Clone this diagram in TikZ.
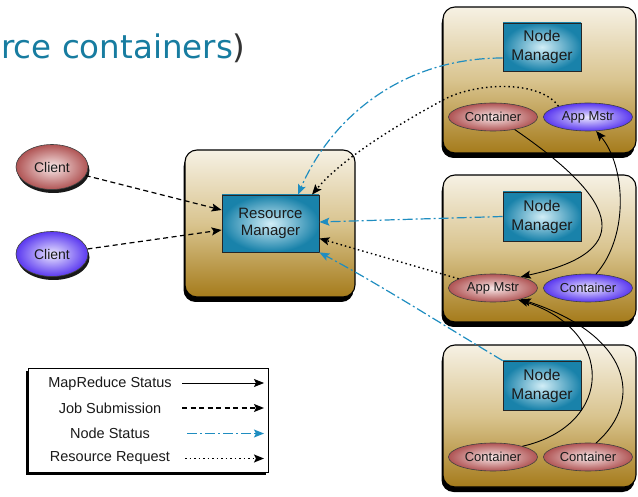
\documentclass[tikz,border=0pt]{standalone}
\usepackage{fontspec}
\setmainfont{Liberation Sans}
\newfontfamily\headfont{DejaVu Sans}
\usetikzlibrary{arrows.meta,shapes.geometric,shadows}

\definecolor{headteal}{HTML}{177CA0}
\definecolor{parengray}{HTML}{333333}
\definecolor{panelTop}{HTML}{F6F1E4}
\definecolor{panelMid}{HTML}{D9C48F}
\definecolor{panelBot}{HTML}{A57B1B}
\definecolor{mgrOut}{HTML}{1982AA}
\definecolor{mgrIn}{HTML}{D2EEF7}
\definecolor{redOut}{HTML}{B05454}
\definecolor{redIn}{HTML}{F8E8E8}
\definecolor{blueOut}{HTML}{5A38F0}
\definecolor{blueIn}{HTML}{ECE8FF}
\definecolor{statBlue}{HTML}{1F8DC0}
\definecolor{labelInk}{HTML}{1A1A1A}

\begin{document}
\begin{tikzpicture}[x=1pt,y=-1pt,
  panel/.style={draw=black, line width=1.1pt, rounded corners=12pt,
    top color=panelTop, bottom color=panelBot, middle color=panelMid,
    inner sep=0pt,
    drop shadow={shadow xshift=-1.5pt, shadow yshift=-5pt, opacity=1, fill=black}},
  mgr/.style={rectangle, draw=black!85, line width=0.8pt,
    inner color=mgrIn, outer color=mgrOut, inner sep=0pt, align=center,
    text=labelInk},
  ell/.style={ellipse, draw=black!75, line width=0.6pt, inner sep=0pt,
    minimum width=89pt, minimum height=28pt, text=labelInk,
    font=\fontsize{13}{15}\selectfont},
  redell/.style={ell, inner color=redIn, outer color=redOut},
  blueell/.style={ell, inner color=blueIn, outer color=blueOut},
  client/.style={minimum width=72pt, minimum height=45pt,
    font=\fontsize{14}{16}\selectfont,
    drop shadow={shadow xshift=1.5pt, shadow yshift=-3.5pt, opacity=0.9, fill=black}},
  tipshape/.style={-{Stealth[length=10pt,width=8pt,inset=2pt]}},
  mrstat/.style={tipshape, line width=0.9pt, black},
  jobsub/.style={tipshape, line width=1.2pt, black, dash pattern=on 5pt off 3.5pt},
  nodestat/.style={tipshape, line width=1.2pt, statBlue,
    dash pattern=on 10pt off 3pt on 2pt off 3pt},
  resreq/.style={tipshape, line width=1.4pt, black, dash pattern=on 1.5pt off 3pt},
  legbox/.style={rectangle, draw=black, line width=0.9pt, fill=white, inner sep=0pt,
    drop shadow={shadow xshift=-2.5pt, shadow yshift=-3pt, opacity=1, fill=black}},
  legtxt/.style={text=labelInk, font=\fontsize{14.5}{16}\selectfont}
]
\useasboundingbox (0,0) rectangle (638,497);

% heading fragment
\node[anchor=base west, inner sep=0pt, font=\headfont\fontsize{32.5}{40}\selectfont]
  (head) at (1,59) {\textcolor{headteal}{rce containers}\textcolor{parengray}{)}};

% panels
\node[panel, minimum width=170pt, minimum height=147pt] (rmp) at (270,223.5) {};
\node[panel, minimum width=193pt, minimum height=146pt] (p1) at (539.5,80) {};
\node[panel, minimum width=193pt, minimum height=147pt] (p2) at (539.5,248.5) {};
\node[panel, minimum width=193pt, minimum height=142pt] (p3) at (539.5,416) {};

% managers
\node[mgr, minimum width=97pt, minimum height=57pt,
  font=\fontsize{15}{17}\selectfont] (rm) at (270.5,223.5) {Resource\\Manager};
\node[mgr, minimum width=78pt, minimum height=48pt,
  font=\fontsize{15.5}{19}\selectfont] (nm1) at (542,47) {Node\\Manager};
\node[mgr, minimum width=78pt, minimum height=49pt,
  font=\fontsize{15.5}{19}\selectfont] (nm2) at (542,216.5) {Node\\Manager};
\node[mgr, minimum width=78pt, minimum height=49pt,
  font=\fontsize{15.5}{19}\selectfont] (nm3) at (542,385.5) {Node\\Manager};

% containers and application masters
\node[redell]  (ct1) at (493,117) {Container};
\node[blueell] (am1) at (588,117) {App Mstr};
\node[redell]  (am2) at (493,288) {App Mstr};
\node[blueell] (ct2) at (588,288) {Container};
\node[redell]  (ct3) at (493,457) {Container};
\node[redell]  (ct4) at (588,457) {Container};

% clients
\node[redell, client]  (c1) at (52,167) {Client};
\node[blueell, client] (c2) at (52,254) {Client};

% job submission
\draw[jobsub] (c1) -- ([yshift=13.5pt]rm.west);
\draw[jobsub] (c2) -- ([yshift=-6.5pt]rm.west);

% node status
\draw[nodestat] ([yshift=-11pt]nm1.west) .. controls (400,58) and (330,120) .. ([xshift=27.5pt]rm.north);
\draw[nodestat] (nm2.west) -- ([yshift=1.5pt]rm.east);
\draw[nodestat] (nm3.north west) .. controls +(-60,-36) and +(60,32) .. (rm.south east);

% resource requests
\coordinate (rrbend) at (443,100);
\draw[resreq] (am1.160) .. controls (540,80) and (476,82) .. (rrbend)
  .. controls (410,118) and (345,155) .. ([xshift=41.5pt]rm.north);
\draw[resreq] (am2.165) -- ([yshift=-15pt]rm.east);

% MapReduce status
\draw[mrstat] (ct1.-30) .. controls (610,195) and (645,250) .. (am2.22);
\draw[mrstat] (ct2.60) .. controls (630,235) and (625,165) .. (am1.-60);
\draw[mrstat] (ct3.20) .. controls (615,425) and (615,330) .. (am2.-25);
\draw[mrstat] (ct4.60) .. controls (645,400) and (630,335) .. (am2.-22);

% legend
\node[legbox, minimum width=240pt, minimum height=104pt] (leg) at (148,420) {};
\node[legtxt] (t1) at (110,383.5) {MapReduce Status};
\node[legtxt] (t2) at (110,408.5) {Job Submission};
\node[legtxt] (t3) at (110,433.5) {Node Status};
\node[legtxt] (t4) at (110,458.5) {Resource Request};
\coordinate (a1) at (182,383);   \coordinate (b1) at (264,383);
\coordinate (a2) at (182,408);   \coordinate (b2) at (264,408);
\coordinate (a3) at (187,433.5); \coordinate (b3) at (264,433.5);
\coordinate (a4) at (185,458.5); \coordinate (b4) at (264,458.5);
\draw[mrstat] (a1) -- (b1);
\draw[jobsub] (a2) -- (b2);
\draw[nodestat] (a3) -- (b3);
\draw[resreq] (a4) -- (b4);
\end{tikzpicture}
\end{document}
